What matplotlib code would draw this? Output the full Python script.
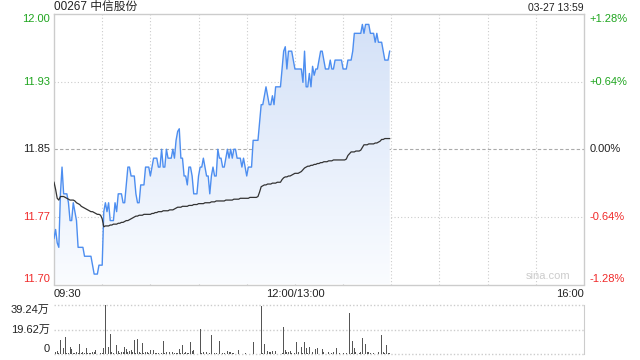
import numpy as np
import matplotlib
matplotlib.use("Agg")
import matplotlib.pyplot as plt
import matplotlib.transforms as mtransforms
from matplotlib.colors import LinearSegmentedColormap

plt.rcParams['font.family'] = ['Liberation Sans', 'Noto Sans CJK SC', 'DejaVu Sans']

title = "00267 中信股份"
timestamp = "03-27 13:59"
prev_close = 11.85
pct_range = 0.0128

price = [
    11.75, 11.76, 11.745, 11.74, 11.80, 11.83, 11.80, 11.80, 11.80, 11.79,
    11.77, 11.77, 11.79, 11.78, 11.77, 11.74, 11.74, 11.74, 11.74, 11.73,
    11.73, 11.73, 11.73, 11.73, 11.72, 11.71, 11.71, 11.71, 11.72, 11.72,
    11.72, 11.78, 11.79, 11.78, 11.79, 11.77, 11.77, 11.77, 11.79, 11.78,
    11.80, 11.80, 11.80, 11.79, 11.79, 11.81, 11.83, 11.83, 11.82, 11.82,
    11.82, 11.80, 11.79, 11.79, 11.81, 11.81, 11.81, 11.83, 11.83, 11.83,
    11.82, 11.83, 11.84, 11.84, 11.84, 11.83, 11.83, 11.85, 11.83, 11.83,
    11.85, 11.84, 11.84, 11.84, 11.85, 11.84, 11.86, 11.87, 11.873, 11.84,
    11.84, 11.82, 11.82, 11.81, 11.83, 11.83, 11.82, 11.80, 11.80, 11.80,
    11.82, 11.83, 11.83, 11.84, 11.83, 11.82, 11.82, 11.80, 11.82, 11.83,
    11.82, 11.82, 11.85, 11.84, 11.84, 11.83, 11.83, 11.84, 11.85, 11.84,
    11.85, 11.84, 11.85, 11.85, 11.84, 11.84, 11.84, 11.83, 11.84, 11.83,
    11.82, 11.83, 11.83, 11.83, 11.86, 11.86, 11.86, 11.86, 11.88, 11.90,
    11.90, 11.91, 11.92, 11.91, 11.90, 11.90, 11.91, 11.90, 11.92, 11.92,
    11.92, 11.92, 11.94, 11.96, 11.965, 11.94, 11.96, 11.96, 11.96, 11.95,
    11.94, 11.94, 11.94, 11.94, 11.94, 11.925, 11.96, 11.92, 11.92, 11.935,
    11.92, 11.943, 11.933, 11.94, 11.94, 11.95, 11.96, 11.96, 11.95, 11.94,
    11.94, 11.94, 11.95, 11.94, 11.94, 11.95, 11.95, 11.95, 11.95, 11.95,
    11.94, 11.94, 11.94, 11.95, 11.95, 11.95, 11.96, 11.98, 11.98, 11.98,
    11.98, 11.98, 11.99, 11.98, 11.99, 11.99, 11.99, 11.98, 11.98, 11.98,
    11.97, 11.98, 11.97, 11.97, 11.97, 11.96, 11.95, 11.95, 11.95, 11.96,
]

avg_price = [
    11.813, 11.805, 11.795, 11.793, 11.797, 11.797, 11.797, 11.796, 11.795, 11.794,
    11.793, 11.793, 11.793, 11.792, 11.790, 11.789, 11.788, 11.786, 11.785, 11.784,
    11.783, 11.782, 11.781, 11.780, 11.780, 11.779, 11.778, 11.777, 11.777, 11.776,
    11.772, 11.763, 11.764, 11.764, 11.764, 11.765, 11.765, 11.766, 11.766, 11.766,
    11.767, 11.767, 11.768, 11.768, 11.769, 11.770, 11.770, 11.771, 11.772, 11.773,
    11.774, 11.775, 11.775, 11.776, 11.776, 11.776, 11.777, 11.777, 11.777, 11.777,
    11.777, 11.778, 11.778, 11.779, 11.779, 11.780, 11.780, 11.780, 11.781, 11.781,
    11.781, 11.781, 11.782, 11.782, 11.782, 11.783, 11.784, 11.785, 11.785, 11.785,
    11.786, 11.786, 11.786, 11.786, 11.787, 11.787, 11.787, 11.788, 11.788, 11.788,
    11.789, 11.789, 11.789, 11.789, 11.790, 11.790, 11.790, 11.790, 11.791, 11.791,
    11.791, 11.792, 11.792, 11.792, 11.792, 11.792, 11.792, 11.793, 11.793, 11.793,
    11.793, 11.793, 11.794, 11.794, 11.794, 11.794, 11.795, 11.795, 11.795, 11.795,
    11.795, 11.795, 11.796, 11.796, 11.796, 11.796, 11.796, 11.797, 11.802, 11.808,
    11.809, 11.810, 11.810, 11.811, 11.811, 11.811, 11.812, 11.812, 11.812, 11.813,
    11.813, 11.813, 11.816, 11.818, 11.819, 11.819, 11.820, 11.820, 11.821, 11.822,
    11.823, 11.823, 11.823, 11.824, 11.825, 11.827, 11.829, 11.830, 11.831, 11.831,
    11.832, 11.832, 11.833, 11.833, 11.834, 11.834, 11.835, 11.835, 11.836, 11.836,
    11.836, 11.837, 11.837, 11.837, 11.838, 11.838, 11.838, 11.838, 11.838, 11.838,
    11.838, 11.838, 11.839, 11.843, 11.845, 11.847, 11.847, 11.847, 11.848, 11.848,
    11.848, 11.849, 11.852, 11.855, 11.855, 11.855, 11.856, 11.856, 11.856, 11.856,
    11.857, 11.857, 11.858, 11.859, 11.861, 11.861, 11.862, 11.862, 11.862, 11.862,
]

# volume in 万 shares
volume = [
    13.6, 1.5, 2.7, 1.0, 11.0, 1.0, 4.8, 14.0, 0.5, 0.8,
    6.0, 4.0, 0.8, 1.0, 2.0, 0.8, 8.0, 0.5, 2.0, 1.0,
    4.8, 0.8, 0.5, 1.0, 2.0, 1.5, 3.5, 0.3, 1.0, 1.0,
    0.8, 4.8, 39.24, 12.3, 5.6, 16.3, 2.0, 1.0, 2.0, 7.5,
    2.5, 0.5, 1.5, 2.0, 5.6, 4.0, 2.0, 2.5, 3.0, 2.0,
    11.5, 0.8, 12.0, 2.0, 0.8, 8.8, 1.0, 2.0, 2.0, 1.0,
    3.0, 1.0, 3.0, 1.0, 0.5, 0.8, 0.5, 0.5, 10.7, 0.5,
    1.5, 1.5, 2.0, 0.3, 1.5, 0.5, 0.5, 1.0, 4.0, 0.5,
    7.5, 0.5, 2.0, 0.5, 0.5, 10.0, 2.5, 3.0, 0.3, 0.3,
    0.3, 20.3, 0.5, 1.5, 0.3, 2.0, 0.3, 1.0, 15.5, 0.5,
    0.5, 0.5, 0.3, 10.7, 2.5, 0.8, 1.0, 0.3, 2.5, 1.5,
    1.5, 0.8, 1.0, 0.3, 0.3, 3.5, 0.3, 0.3, 0.3, 0.8,
    0.3, 0.3, 0.3, 0.3, 9.6, 0.3, 0.2, 0.2, 0.2, 38.7,
    0.5, 8.0, 8.0, 2.5, 2.0, 1.5, 2.5, 1.0, 2.7, 0.3,
    0.3, 0.2, 0.5, 21.3, 3.5, 1.5, 2.0, 2.5, 0.8, 0.3,
    0.5, 10.0, 2.0, 0.3, 6.0, 0.8, 10.0, 4.5, 0.5, 6.0,
    0.5, 2.0, 0.2, 4.0, 4.5, 6.0, 0.3, 4.0, 1.5, 0.3,
    0.5, 1.5, 0.3, 1.0, 1.5, 0.3, 5.0, 0.3, 0.8, 0.3,
    0.5, 0.2, 0.5, 0.3, 32.8, 0.5, 10.7, 5.0, 2.0, 0.2,
    0.5, 2.0, 12.8, 13.2, 8.0, 2.0, 1.5, 0.5, 6.0, 0.8,
    0.3, 0.3, 2.0, 3.0, 15.5, 2.0, 0.8, 7.5, 1.0, 1.0,
]

price_tick_labels = ["12.00", "11.93", "11.85", "11.77", "11.70"]
pct_tick_labels = ["+1.28%", "+0.64%", "0.00%", "-0.64%", "-1.28%"]
vol_tick_labels = ["39.24万", "19.62万", "0"]
vol_tick_values = [39.24, 19.62, 0]
time_labels = ["09:30", "12:00/13:00", "16:00"]
time_label_pos = [0, 150, 330]

GREEN = "#1fa51f"
RED = "#f02a2a"
BLACK = "#222222"
label_colors = [GREEN, GREEN, BLACK, RED, RED]

total_minutes = 330
ylo = prev_close * (1 - pct_range)
yhi = prev_close * (1 + pct_range)
levels = [prev_close * (1 + k * pct_range / 2) for k in (2, 1, 0, -1, -2)]

fig = plt.figure(figsize=(6.4, 3.6), dpi=100)
ax = fig.add_axes([54 / 640, 1 - 284.5 / 360, 530 / 640, 270.5 / 360])
axv = fig.add_axes([54 / 640, 1 - 354 / 360, 530 / 640, 49 / 360])

# ---- main price axes ----
ax.set_xlim(0, total_minutes)
ax.set_ylim(ylo, yhi)
for s in ax.spines.values():
    s.set_color("#cccccc")
    s.set_linewidth(1.0)
ax.set_xticks([])
ax.set_yticks([])
for xm in range(30, total_minutes, 30):
    ax.axvline(xm, color="#cccccc", lw=0.8, ls=(0, (1, 2)), zorder=1)
for i, lv in enumerate(levels[1:-1]):
    if abs(lv - prev_close) < 1e-9:
        ax.axhline(lv, color="#aaaaaa", lw=0.8, ls=(0, (3, 2)), zorder=1)
    else:
        ax.axhline(lv, color="#cccccc", lw=0.8, ls=(0, (1, 2)), zorder=1)

x = np.arange(len(price))
xa = np.arange(len(avg_price))

# gradient fill under the price line
poly = ax.fill_between(x, price, ylo, facecolor="none", edgecolor="none")
cmap = LinearSegmentedColormap.from_list("g", ["#fafcff", "#d2e0f7"])
grad = np.linspace(0, 1, 256).reshape(-1, 1)
im = ax.imshow(grad, cmap=cmap, aspect="auto", origin="lower",
               extent=[0, x[-1], ylo, yhi], zorder=2)
im.set_clip_path(poly.get_paths()[0], transform=ax.transData)
ax.set_xlim(0, total_minutes)
ax.set_ylim(ylo, yhi)

ax.plot(x, price, color="#4d8ef0", lw=1.0, zorder=4)
ax.plot(xa, avg_price, color="#333333", lw=0.9, zorder=5)

trans_l = mtransforms.blended_transform_factory(ax.transAxes, ax.transData)
for i, (lv, lab, pl) in enumerate(zip(levels, price_tick_labels, pct_tick_labels)):
    va = "center"
    if i == 0:
        va = "top"
    elif i == len(levels) - 1:
        va = "bottom"
    ax.text(-0.008, lv, lab, transform=trans_l, ha="right", va=va,
            color=label_colors[i], fontsize=8)
    ax.text(1.011, lv, pl, transform=trans_l, ha="left", va=va,
            color=label_colors[i], fontsize=8)

trans_x = mtransforms.blended_transform_factory(ax.transData, ax.transAxes)
has = ["left", "center", "right"]
for pos, lab, ha in zip(time_label_pos, time_labels, has):
    ax.text(pos, -0.036, lab, transform=trans_x, ha=ha, va="center",
            fontsize=8, color=BLACK)

ax.text(0.0, 1.005, title, transform=ax.transAxes, ha="left", va="bottom",
        fontsize=8.5, color=BLACK)
ax.text(1.0, 1.005, timestamp, transform=ax.transAxes, ha="right", va="bottom",
        fontsize=7.5, color=BLACK)
ax.text(0.975, 0.012, "sina.com", transform=ax.transAxes, ha="right",
        va="bottom", fontsize=8, color="#cccccc")

# ---- volume axes ----
axv.set_xlim(0, total_minutes)
axv.set_ylim(0, vol_tick_values[0])
for k, s in axv.spines.items():
    s.set_visible(k == "right")
    s.set_color("#cccccc")
axv.set_xticks([])
axv.set_yticks([])
for v in vol_tick_values:
    axv.axhline(v, color="#cccccc", lw=1.0, ls=(0, (1, 1.5)), zorder=1,
                clip_on=False)
axv.bar(np.arange(len(volume)), volume, width=0.55, color="#555555",
        zorder=3)
trans_v = mtransforms.blended_transform_factory(axv.transAxes, axv.transData)
vas = ["top", "center", "bottom"]
for v, lab, va in zip(vol_tick_values, vol_tick_labels, vas):
    yv = v
    axv.text(-0.008, yv, lab, transform=trans_v, ha="right", va="center"
             if va == "center" else va, fontsize=8, color=BLACK)

fig.savefig("out.png", dpi=100)
